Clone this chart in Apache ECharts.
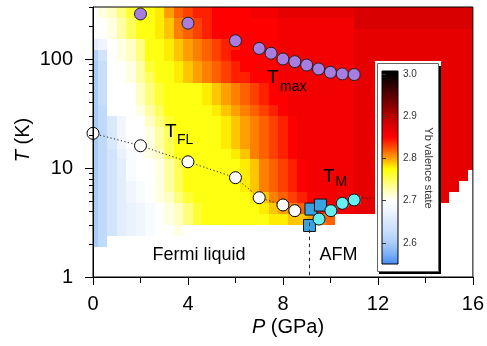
<!DOCTYPE html>
<html><head><meta charset="utf-8">
<script src="https://cdn.jsdelivr.net/npm/echarts@6/dist/echarts.min.js"></script>
<style>html,body{margin:0;padding:0;background:#fff}#c{width:487px;height:346px}</style>
</head><body><div id="c"></div>
<script>
const FONT = '"Liberation Sans", Arial, Helvetica, sans-serif';

// ---- heat map grid: pressure cell centres (GPa) and temperature row edges (K)
const pCenters = [0,0.4,0.8,1.2,1.6,2,2.4,2.8,3.2,3.6,4,4.4,4.8,5.2,5.6,6,6.4,6.8,7.2,7.6,8,8.4,8.8,9.2,9.6,10,10.4,10.8,11.2,11.6,12,12.4,12.8,13.2,13.6,14,14.4,14.8,15.2,15.6,16];
const tEdges = [1.9,2.4,3.0,3.8,4.8,6.0,7.6,9.5,12,15,19,24,30,38,48,60,76,95,120,151,190,240,300];

// Yb valence, code = (valence - 2) * 100 ; 0 = no data.  Row 00 = lowest T.
const val_r00 = [60,62,0,0,0,0,0,0,0,0, 0,0,0,0,0,0,0,0,0,0, 0,0,0,0,0,0,0,0,0,0, 0,0,0,0,0,0,0,0,0,0, 0];
const val_r01 = [60,62,64,66,67,68,69,70,70,71, 0,0,0,0,0,0,0,0,0,0, 0,0,0,0,0,0,0,0,0,0, 0,0,0,0,0,0,0,0,0,0, 0];
const val_r02 = [60,62,64,66,67,68,69,70,71,72, 74,76,77,77,77,77,77,77,77,78, 78,79,79,80,81,82,0,0,0,0, 0,0,0,0,0,0,0,0,0,0, 0];
const val_r03 = [60,62,64,66,67,68,69,70,71,72, 74,76,77,77,77,77,77,77,78,79, 80,81,82,83,84,85,86,86,87,87, 87,87,87,87,87,87,87,0,0,0, 0];
const val_r04 = [60,62,64,66,68,69,70,71,72,74, 76,77,77,77,77,77,77,78,79,81, 82,83,84,85,86,86,86,86,87,87, 87,87,87,87,87,87,87,87,0,0, 0];
const val_r05 = [60,62,64,66,68,69,70,71,73,75, 77,77,77,77,77,77,78,79,81,82, 83,84,85,86,86,86,86,86,87,87, 87,87,87,87,87,87,87,87,87,0, 0];
const val_r06 = [60,62,64,66,69,70,70,71,73,75, 77,77,77,77,77,77,78,79,81,82, 83,84,85,86,86,86,86,86,87,87, 87,87,87,87,87,87,87,87,87,87, 0];
const val_r07 = [60,62,64,66,69,70,70,71,73,75, 77,77,77,77,77,77,78,79,81,82, 83,84,85,86,86,86,86,86,87,87, 87,87,87,87,87,87,87,87,87,87, 87];
const val_r08 = [60,62,64,67,69,70,71,72,75,77, 77,77,77,77,77,78,79,81,82,83, 84,85,86,86,86,86,86,86,87,87, 87,87,87,87,87,87,87,87,87,87, 87];
const val_r09 = [60,62,65,68,70,70,71,73,75,77, 77,77,77,77,78,79,80,81,82,83, 84,85,86,86,86,86,86,86,87,87, 87,87,87,87,87,87,87,87,87,87, 87];
const val_r10 = [60,62,65,68,70,70,71,73,75,77, 77,77,77,77,78,79,80,81,82,83, 84,85,86,86,86,86,86,86,87,87, 87,87,87,87,87,87,87,87,87,87, 87];
const val_r11 = [60,62,65,68,70,70,72,74,76,77, 77,77,77,77,78,79,80,81,82,83, 84,85,86,86,86,86,86,86,87,87, 87,87,87,87,87,87,87,87,87,87, 87];
const val_r12 = [60,62,70,70,70,71,73,75,77,77, 77,77,77,78,79,80,81,82,83,84, 85,86,86,86,86,86,86,86,87,87, 87,87,87,87,87,87,87,87,87,87, 87];
const val_r13 = [60,63,70,70,70,72,74,76,77,77, 77,77,78,79,80,81,82,83,84,85, 85,86,86,86,86,86,86,86,87,87, 87,87,87,87,87,87,87,87,87,87, 87];
const val_r14 = [60,63,70,70,70,72,74,76,77,77, 77,77,78,79,80,81,82,83,84,85, 86,86,86,86,86,86,86,86,87,87, 87,87,87,87,87,87,87,87,87,87, 87];
const val_r15 = [60,63,70,70,71,73,75,77,77,78, 79,80,81,82,83,84,84,85,85,85, 86,86,86,86,86,86,86,86,87,87, 87,87,87,87,87,87,87,87,87,87, 87];
const val_r16 = [60,63,70,70,71,73,76,77,77,78, 79,80,81,82,83,84,85,85,85,85, 86,86,86,86,86,86,86,86,87,87, 87,87,87,87,87,87,87,87,87,87, 87];
const val_r17 = [61,64,70,71,72,74,77,77,78,79, 80,81,82,83,84,85,85,85,85,85, 86,86,86,86,86,86,86,86,87,87, 87,87,87,87,87,87,87,87,87,87, 87];
const val_r18 = [66,68,70,71,72,74,77,77,78,79, 80,81,82,83,84,84,85,85,85,85, 86,86,86,86,86,86,86,86,87,87, 87,87,87,87,87,87,87,87,87,87, 87];
const val_r19 = [70,70,71,73,75,77,77,78,79,81, 82,83,84,85,85,85,85,85,85,85, 86,86,86,86,86,86,86,86,87,87, 87,87,87,87,87,87,87,87,87,87, 87];
const val_r20 = [70,70,71,73,75,77,77,78,79,81, 82,83,84,85,85,85,85,85,85,85, 86,86,86,86,86,86,86,86,88,88, 88,88,88,88,88,88,88,88,88,88, 88];
const val_r21 = [70,71,72,74,76,77,77,78,80,82, 83,84,84,85,85,85,85,86,86,86, 87,87,87,87,87,87,87,87,88,88, 88,88,88,88,88,88,88,88,88,88, 88];
const valenceRows = [val_r00,val_r01,val_r02,val_r03,val_r04,val_r05,val_r06,val_r07,val_r08,val_r09,val_r10,
  val_r11,val_r12,val_r13,val_r14,val_r15,val_r16,val_r17,val_r18,val_r19,val_r20,val_r21];

// colour scale of the valence (evenly spaced from 2.55 to 3.00)
const cbMin = 2.55, cbMax = 3.0;
const cbColors = ['#4a8cf5','#80b2f7','#a9cdf9','#c4ddfb','#dae8fc','#eef4fe','#ffffff','#ffffb4','#ffff5a','#ffff00',
  '#ffa000','#ff5000','#ff0000','#e00000','#b80000','#880000','#580000','#2a0000','#000000'];
const cbTicks = [2.6,2.7,2.8,2.9,3.0];

// ---- symbols
const tmaxP = [2,4,6,7,7.5,8,8.5,9,9.5,10,10.5,11];
const tmaxT = [259,213,147,125,113,100,94.5,88,81,75.5,73,72];
const tflP = [0,2,4,6,7,8,8.5];
const tflT = [20.8,16.0,11.4,8.15,5.34,4.58,4.06];
const tmCircP = [9.52,10.02,10.5,11.0];
const tmCircT = [3.4,4.06,4.74,5.09];
const tmCircErrP = [0.25,0.25,0.25,0.25];
const tmSqP = [9.12,9.18,9.58];
const tmSqT = [2.97,4.2,4.57];
const tmGuideP = [11.2,11.9];
const tmGuideT = [5.3,5.3];
const afmLineP = [9.12,9.12];
const afmLineT = [3.15,1];

const yMajorTicks = [1,10,100];
const yMinorTicks = [2,3,4,5,6,7,8,9,20,30,40,50,60,70,80,90,200,300];

const zip = (a,b) => a.map((v,i)=>[v,b[i]]);

const cells = [];
valenceRows.forEach((row,k) => row.forEach((code,j) => {
  if (!code) return;
  cells.push([Math.max(0,pCenters[j]-0.2), Math.min(16,pCenters[j]+0.2), tEdges[k], tEdges[k+1], 2 + code/100]);
}));

const chart = echarts.init(document.getElementById('c'), null, {renderer:'canvas'});

const cbTop = 3.007;
const gradStops = cbColors.map((c,i)=>({offset: (i*0.025)/(cbTop-cbMin), color:c}));
gradStops.push({offset:1, color:'#000000'});

const txt = (text, x, y, size, extra) => Object.assign({
  type:'text', x, y, z:50, silent:true,
  style:{text, fontSize:size, fontFamily:FONT, fill:'#000', align:'left', verticalAlign:'middle'}
}, extra||{});

chart.setOption({
  animation:false,
  backgroundColor:'#fff',
  grid:[
    {left:93, right:14, top:7, bottom:69, show:true, borderColor:'#000', borderWidth:1, backgroundColor:'transparent', z:5},
    {left:382, top:71, width:16, height:193, show:true, borderColor:'#000', borderWidth:1, backgroundColor:'transparent', z:22}
  ],
  xAxis:[
    {type:'value', min:0, max:16, interval:4, gridIndex:0, z:6,
     axisLine:{lineStyle:{color:'#000', width:1}},
     axisTick:{length:8, lineStyle:{color:'#000'}},
     minorTick:{show:true, splitNumber:2, length:6, lineStyle:{color:'#000'}},
     splitLine:{show:false},
     axisLabel:{fontSize:20, fontFamily:FONT, color:'#000', margin:17}},
    {type:'value', min:0, max:1, gridIndex:1, show:false}
  ],
  yAxis:[
    {type:'log', logBase:10, min:1, max:300, gridIndex:0, z:6,
     axisLine:{show:true, lineStyle:{color:'#000', width:1}},
     axisTick:{show:false}, splitLine:{show:false}, minorTick:{show:false},
     axisLabel:{fontSize:20, fontFamily:FONT, color:'#000', margin:20,
       formatter: v => { const l = Math.log10(v); return Math.abs(l-Math.round(l))<1e-6 ? String(Math.round(v)) : ''; }}},
    {type:'value', min:cbMin, max:cbTop, gridIndex:1, position:'right', z:22,
     axisLine:{show:false}, splitLine:{show:false},
     axisTick:{show:true, length:4, customValues:cbTicks, lineStyle:{color:'#333'}},
     axisLabel:{customValues:cbTicks, fontSize:10, fontFamily:FONT, color:'#333', margin:5, formatter: v => v.toFixed(1)}}
  ],
  visualMap:[{type:'continuous', show:false, min:cbMin, max:cbMax, dimension:4, seriesIndex:0, inRange:{color:cbColors}}],
  graphic:[
    {type:'rect', z:10, silent:true, shape:{x:375, y:61, width:66, height:213}, style:{fill:'#fff'}},
    {type:'rect', z:11, silent:true, shape:{x:379, y:66, width:62, height:208}, style:{fill:'#000'}},
    {type:'rect', z:12, silent:true, shape:{x:377.5, y:63.5, width:61, height:208}, style:{fill:'#fff', stroke:'#666', lineWidth:1}},
    txt('Yb valence state', 428, 168, 11, {rotation:-Math.PI/2, z:30, style:{text:'Yb valence state', fontSize:11, fontFamily:FONT, fill:'#333', align:'center', verticalAlign:'middle'}}),
    txt('T', 267, 78, 19), txt('max', 280, 87, 14),
    txt('T', 165, 131.5, 19), txt('FL', 177, 140, 14),
    txt('T', 323, 177, 19), txt('M', 335.5, 182, 14),
    txt('Fermi liquid', 199, 255, 18, {style:{text:'Fermi liquid', fontSize:18, fontFamily:FONT, fill:'#000', align:'center', verticalAlign:'middle'}}),
    txt('AFM', 338.5, 255, 18, {style:{text:'AFM', fontSize:18, fontFamily:FONT, fill:'#000', align:'center', verticalAlign:'middle'}}),
    {type:'text', x:288, y:327, z:50, silent:true, style:{text:'{i|P} (GPa)', fontSize:20, fontFamily:FONT, fill:'#000', align:'center', verticalAlign:'middle',
      rich:{i:{fontStyle:'italic', fontSize:20, fontFamily:FONT, fill:'#000'}}}},
    {type:'text', x:23, y:140, rotation:Math.PI/2, z:50, silent:true, style:{text:'{i|T} (K)', fontSize:20, fontFamily:FONT, fill:'#000', align:'center', verticalAlign:'middle',
      rich:{i:{fontStyle:'italic', fontSize:20, fontFamily:FONT, fill:'#000'}}}}
  ],
  series:[
    {type:'custom', name:'valence', xAxisIndex:0, yAxisIndex:0, z:1, silent:true, data:cells,
     encode:{x:[0,1], y:[2,3]},
     renderItem:(params, api) => {
       const a = api.coord([api.value(0), api.value(2)]);
       const b = api.coord([api.value(1), api.value(3)]);
       const x0 = Math.round(a[0]), x1 = Math.round(b[0]), y0 = Math.round(b[1]), y1 = Math.round(a[1]);
       return {type:'rect', shape:{x:x0, y:y0, width:x1-x0, height:y1-y0}, style:{fill:api.visual('color')}};
     }},
    {type:'custom', name:'yticks', xAxisIndex:0, yAxisIndex:0, z:7, silent:true,
     data:[...yMajorTicks.map(v=>[0,v,1]), ...yMinorTicks.map(v=>[0,v,0])],
     encode:{x:0, y:1},
     renderItem:(params, api) => {
       const p = api.coord([0, api.value(1)]);
       const len = api.value(2) ? 8 : 4;
       const y = Math.round(p[1]) + 0.5, x = Math.round(p[0]);
       return {type:'line', shape:{x1:x-len, y1:y, x2:x, y2:y}, style:{stroke:'#000', lineWidth:1}};
     }},
    {type:'line', name:'TFL', data:zip(tflP,tflT), z:3, symbol:'circle', symbolSize:12, showSymbol:true,
     itemStyle:{color:'#fff', borderColor:'#000', borderWidth:1, opacity:1},
     lineStyle:{color:'#222', width:1, type:[1.2,2.4]}},
    {type:'line', name:'TMguide', data:zip(tmGuideP,tmGuideT), z:2, symbol:'none',
     lineStyle:{color:'#222', width:1, type:[1.2,2.4]}},
    {type:'scatter', name:'Tmax', data:zip(tmaxP,tmaxT), z:3, symbol:'circle', symbolSize:12,
     itemStyle:{color:'#a87de0', borderColor:'#222', borderWidth:1, opacity:1}},
    {type:'scatter', name:'TMsq', data:zip(tmSqP,tmSqT), z:3, symbol:'rect', symbolSize:12,
     itemStyle:{color:'#3ba2e2', borderColor:'#111', borderWidth:1, opacity:1}},
    {type:'line', name:'AFMline', data:zip(afmLineP,afmLineT), z:4, symbol:'none',
     lineStyle:{color:'#222', width:1, type:[3.5,3.5]}},
    {type:'custom', name:'errP', z:3, silent:true, data:tmCircP.map((p,i)=>[p,tmCircT[i],tmCircErrP[i]]),
     encode:{x:0, y:1},
     renderItem:(params, api) => {
       const p = api.value(0), t = api.value(1), e = api.value(2);
       const l = api.coord([p-e, t]), r = api.coord([p+e, t]);
       const st = {stroke:'#888', lineWidth:1};
       return {type:'group', children:[
         {type:'line', shape:{x1:l[0], y1:l[1], x2:r[0], y2:r[1]}, style:st},
         {type:'line', shape:{x1:l[0], y1:l[1]-4, x2:l[0], y2:l[1]+4}, style:st},
         {type:'line', shape:{x1:r[0], y1:r[1]-4, x2:r[0], y2:r[1]+4}, style:st}
       ]};
     }},
    {type:'scatter', name:'TMcirc', data:zip(tmCircP,tmCircT), z:4, symbol:'circle', symbolSize:12,
     itemStyle:{color:'#66eef0', borderColor:'#111', borderWidth:1, opacity:1}},
    {type:'custom', name:'colorbar', xAxisIndex:1, yAxisIndex:1, z:21, silent:true, data:[[0,1,cbMin,cbTop]],
     encode:{x:[0,1], y:[2,3]},
     renderItem:(params, api) => {
       const a = api.coord([0, cbMin]), b = api.coord([1, cbTop]);
       return {type:'rect', shape:{x:a[0], y:b[1], width:b[0]-a[0], height:a[1]-b[1]},
         style:{fill:new echarts.graphic.LinearGradient(0,1,0,0,gradStops)}};
     }}
  ]
});
</script></body></html>
